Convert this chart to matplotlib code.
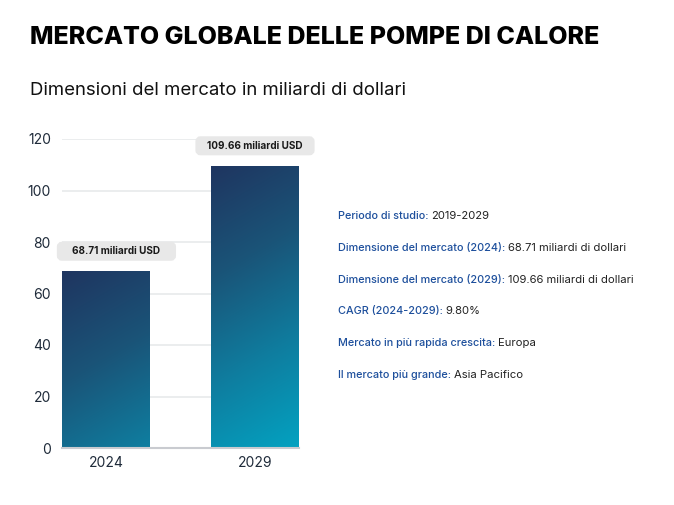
import numpy as np
import matplotlib
matplotlib.use("Agg")
import matplotlib.pyplot as plt
from matplotlib.colors import LinearSegmentedColormap
from matplotlib.patches import Rectangle, FancyBboxPatch

title = "MERCATO GLOBALE DELLE POMPE DI CALORE"
subtitle = "Dimensioni del mercato in miliardi di dollari"
years = ["2024", "2029"]
values = [68.71, 109.66]
bar_labels = ["68.71 miliardi USD", "109.66 miliardi USD"]
y_ticks = [0, 20, 40, 60, 80, 100, 120]
info_keys = ["Periodo di studio:", "Dimensione del mercato (2024):", "Dimensione del mercato (2029):",
             "CAGR (2024-2029):", "Mercato in più rapida crescita:", "Il mercato più grande:"]
info_values = ["2019-2029", "68.71 miliardi di dollari", "109.66 miliardi di dollari",
               "9.80%", "Europa", "Asia Pacifico"]

W, H = 674, 505
plt.rcParams['font.family'] = ['Inter', 'DejaVu Sans']

fig = plt.figure(figsize=(W / 100, H / 100), dpi=100, facecolor='white')
ax = fig.add_axes([62 / W, 1 - 448 / H, 237 / W, 309 / H])

bar_w = 88 / 149
cmap = LinearSegmentedColormap.from_list("bars", ["#1f3560", "#1a5478", "#0f7d9f", "#03a2c1"])

# gradient is per bar, but runs on the same absolute scale
for i, v in enumerate(values):
    xx, yy = np.meshgrid(np.linspace(0, 1, 60), np.linspace(0, 1, 300))
    t = (yy * v / 110 * 0.85 + xx * 0.15)
    im = ax.imshow(t, cmap=cmap, vmin=0, vmax=1, origin='upper', aspect='auto', zorder=2,
                   extent=[i - bar_w / 2, i + bar_w / 2, 0, v], interpolation='bilinear')
    im.set_clip_path(Rectangle((i - bar_w / 2, 0), bar_w, v, transform=ax.transData))
ax.set_xlim(-bar_w / 2, 1 + bar_w / 2)
ax.set_ylim(0, 120)

ax.set_yticks(y_ticks)
ax.set_xticks([0, 1], years)
ax.grid(axis='y', color='#e6e8ea', lw=1.1, zorder=0)
ax.set_axisbelow(True)
for s in ['top', 'right', 'left']:
    ax.spines[s].set_visible(False)
ax.spines['bottom'].set_color('#c9cbd0')
ax.spines['bottom'].set_linewidth(1.5)
ax.tick_params(length=0, labelsize=10, labelcolor='#1f2b3a')
ax.tick_params(axis='y', pad=8)
ax.tick_params(axis='x', pad=6)

# grey value labels, the first one sits a little right of its bar
label_dx = [0.07, 0]
box_w = 121 / 149
box_h = 20 / (309 / 120)
for i, (v, lab) in enumerate(zip(values, bar_labels)):
    cx = i + label_dx[i]
    cy = v + 7.7
    ax.add_patch(FancyBboxPatch((cx - box_w / 2 + 0.02, cy - box_h / 2 + 1), box_w - 0.04, box_h - 2,
                                boxstyle='round,pad=0,rounding_size=0.02', mutation_aspect=60,
                                fc='#e8e8e8', ec='#e8e8e8', lw=3, zorder=4, clip_on=False))
    ax.text(cx, cy, lab, ha='center', va='center', fontsize=7.15, fontweight='bold',
            color='#1a1a1a', zorder=5, clip_on=False)

fig.text(30 / W, 1 - 37 / H, title, fontsize=18, fontweight=800, color='black', va='center')
fig.text(30 / W, 1 - 91 / H, subtitle, fontsize=13.4, color='#111111', va='center')

# side notes: blue key followed by a black value
renderer = fig.canvas.get_renderer()
y_px = 216.5
for key, val in zip(info_keys, info_values):
    t = fig.text(338 / W, 1 - y_px / H, key, fontsize=7.8, color='#1d4f9c', fontweight='medium', va='center')
    x_end = t.get_window_extent(renderer).x1
    fig.text((x_end + 3) / W, 1 - y_px / H, val, fontsize=8.1, color='#222222', va='center')
    y_px += 31.6

fig.savefig('out.png', dpi=100)
